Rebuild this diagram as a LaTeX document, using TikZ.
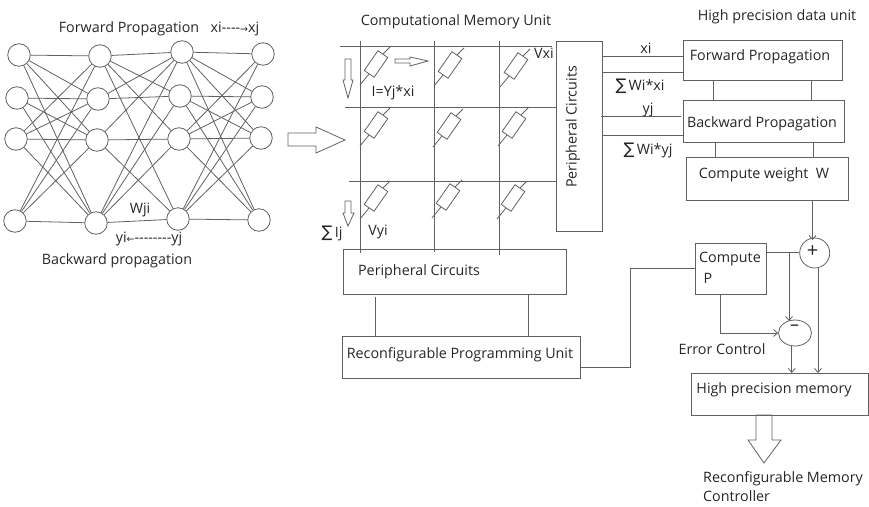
\documentclass[tikz,border=0pt]{standalone}
\usepackage{fontspec}
\setmainfont{Open Sans}
\newfontfamily\symf{DejaVu Sans}
\usetikzlibrary{arrows.meta,shapes.geometric}
\tikzset{
  x=1pt,y=-1pt,
  ln/.style={draw=black!62,line width=0.8pt},
  neuron/.style={circle,ln,minimum size=22.5pt,inner sep=0pt},
  boxn/.style={rectangle,ln,inner sep=0pt},
  res/.style={rectangle,ln,minimum width=24pt,minimum height=12pt,inner sep=0pt,rotate=55},
  hollow/.style={ln,line join=miter},
  txt/.style={inner sep=0pt,text=black!85,font=\fontsize{14.3}{16}\selectfont},
  open/.style={-{Straight Barb[length=4pt,width=7pt]}}
}
\newcommand{\sumsym}{{\symf\fontsize{16}{16}\selectfont\char"2211}}
\begin{document}
\begin{tikzpicture}
\useasboundingbox (0,0) rectangle (869,506);
% network
\node[neuron] (a1) at (19,55) {};
\node[neuron] (a2) at (17,98) {};
\node[neuron] (a3) at (16,139) {};
\node[neuron] (a4) at (15,221) {};
\node[neuron] (b1) at (100,56) {};
\node[neuron] (b2) at (98,99) {};
\node[neuron] (b3) at (97,140) {};
\node[neuron] (b4) at (96,223) {};
\node[neuron] (c1) at (182,52) {};
\node[neuron] (c2) at (180,96) {};
\node[neuron] (c3) at (179,139) {};
\node[neuron] (c4) at (178,219) {};
\node[neuron] (d1) at (263,54) {};
\node[neuron] (d2) at (262,97) {};
\node[neuron] (d3) at (261,138) {};
\node[neuron] (d4) at (259,220) {};
\foreach \i/\j in {1/1,1/2,1/3,1/4,2/2,2/3,2/4,3/1,3/2,3/3,3/4,4/1,4/2,4/3,4/4}{
  \draw[ln] (a\i) -- (b\j);
  \draw[ln] (c\i) -- (d\j);
}
\foreach \i/\j in {1/1,1/2,1/3,1/4,2/1,2/2,3/1,3/3,3/4,4/1,4/2,4/3,4/4}{
  \draw[ln] (b\i) -- (c\j);
}
\node[txt] (t1) at (129,29) {Forward Propagation};
\node[txt] (t2) at (235,29) {xi{-}{-}{-}{-}{\symf\fontsize{9.5}{10}\selectfont→}xj};
\node[txt] (t3) at (140,210) {Wji};
\node[txt] (t4) at (149,239) {yi{\symf\fontsize{9.5}{10}\selectfont←}{-}{-}{-}{-}{-}{-}{-}{-}yj};
\node[txt] (t5) at (117,261) {Backward propagation};
% big arrow
\draw[hollow] (288,133) -- (316,133) -- (316,127) -- (345,140) -- (316,153) -- (316,146) -- (288,146) -- cycle;
% crossbar
\node[txt] (t6) at (456,22) {Computational Memory Unit};
\node[boxn,minimum width=46pt,minimum height=190pt] (pr) at (579,136) {};
\node[txt,rotate=90] (t7) at (573,127) {Peripheral Circuits};
\node[boxn,minimum width=223pt,minimum height=45pt] (pb) at (454.5,271.5) {};
\node[txt] (t8) at (419,272) {Peripheral Circuits};
\node[boxn,minimum width=238pt,minimum height=42pt] (rp) at (461,357) {};
\node[txt] (t9) at (460,355) {Reconfigurable Programming Unit};
\coordinate (h1a) at (340,46);  \coordinate (h1b) at (552,46);
\coordinate (h2a) at (345,107); \coordinate (h2b) at (556,107);
\coordinate (h3a) at (349,181); \coordinate (h3b) at (557,181);
\coordinate (v1a) at (360,41);  \coordinate (v1b) at (360,253);
\coordinate (v2a) at (434,41);  \coordinate (v2b) at (434,252);
\coordinate (v3a) at (499,41);  \coordinate (v3b) at (499,255);
\foreach \n in {h1,h2,h3,v1,v2,v3}{\draw[ln] (\n a) -- (\n b);}
\foreach \n/\x/\y in {r11/376/64,r12/450/65,r13/516/66,r21/376/125,r22/449/126,r23/514/125,r31/376/198,r32/448/197,r33/513/198}{
  \node[res] (\n) at (\x,\y) {};
  \coordinate (\n l) at (\x-16,\y+21);
  \coordinate (\n u) at (\x+14,\y-17);
  \draw[ln] (\n l) -- (\n.west);
  \draw[ln] (\n.east) -- (\n u);
}
\draw[hollow] (395,59) -- (410,59) -- (410,57) -- (428,61) -- (410,66) -- (410,63) -- (395,63) -- cycle;
\draw[hollow] (345,59) -- (351,59) -- (351,80) -- (353,80) -- (348,98) -- (343,80) -- (345,80) -- cycle;
\draw[hollow] (345,201) -- (351,201) -- (351,213) -- (354,213) -- (348,226) -- (343,213) -- (345,213) -- cycle;
\node[txt] (t10) at (393,93) {I=Yj*xi};
\node[txt] (t11) at (544,53) {Vxi};
\node[txt] (t12) at (378,232) {Vyi};
\node[txt] (t13) at (332,233) {\sumsym\,Ij};
\coordinate (pb1) at (375,297); \coordinate (pb2) at (528,295);
\coordinate (rp1) at (375,336); \coordinate (rp2) at (528,336);
\draw[ln] (pb1) -- (rp1);
\draw[ln] (pb2) -- (rp2);
% right column
\node[txt] (t14) at (777,17) {High precision data unit};
\node[boxn,minimum width=159pt,minimum height=40pt] (fp) at (762.5,60) {};
\node[txt] (t15) at (760,57) {Forward Propagation};
\node[boxn,minimum width=161.5pt,minimum height=42pt] (bp) at (763.75,121) {};
\node[txt] (t16) at (762,124) {Backward Propagation};
\node[boxn,minimum width=162pt,minimum height=43pt] (cw) at (767,178.5) {};
\node[txt] (t17) at (764,175) {Compute weight\ \ W};
\foreach \x in {713,811}{\draw[ln] (\x,80) -- (\x,100);}
\foreach \x in {715,813}{\draw[ln] (\x,142) -- (\x,157);}
\coordinate (p1) at (602,56);  \coordinate (f1) at (683,56);
\coordinate (p2) at (602,72);  \coordinate (f2) at (684,72);
\coordinate (p3) at (601,116); \coordinate (f3) at (681,116);
\coordinate (p4) at (602,135); \coordinate (f4) at (683,135);
\draw[ln] (p1) -- (f1);
\draw[ln] (p2) -- (f2);
\draw[ln] (p3) -- (f3);
\draw[ln] (p4) -- (f4);
\node[txt] (t18) at (646,48) {xi};
\node[txt] (t19) at (640,86) {\sumsym\,Wi*xi};
\node[txt] (t20) at (648,110) {yj};
\node[txt] (t21) at (648,150) {\sumsym\,Wi*yj};
\node[circle,ln,minimum size=30pt,inner sep=0pt] (plus) at (814.7,253) {};
\node[txt,font=\fontsize{20}{22}\selectfont] (t22) at (812.5,251.5) {+};
\node[ellipse,ln,minimum width=33pt,minimum height=26pt,inner sep=0pt] (minus) at (795,333) {};
\node[txt,font=\fontsize{18}{20}\selectfont] (t23) at (794.5,328) {–};
\node[boxn,minimum width=70.5pt,minimum height=51pt] (cp) at (731,268.5) {};
\node[txt] (t24) at (730,259) {Compute};
\node[txt] (t25) at (708,278) {P};
\node[boxn,minimum width=177pt,minimum height=42pt] (hp) at (779.5,394) {};
\node[txt] (t26) at (774,390) {High precision memory};
\node[txt] (t27) at (722,349) {Error Control};
\coordinate (cwb) at (812.5,200);
\coordinate (pt) at (812.5,240);
\draw[ln,open] (cwb) -- (pt);
\coordinate (cpr) at (766,252);
\draw[ln] (cpr) -- (plus.west |- cpr);
\coordinate (br) at (789,252);
\coordinate (mt) at (789,321);
\draw[ln,open] (br) -- (mt);
\coordinate (cpb) at (720.7,294);
\coordinate (cpc) at (720.7,333);
\draw[ln,open] (cpb) -- (cpc) -- (minus.west);
\coordinate (mb) at (791.7,346);
\coordinate (hm) at (791.7,373);
\draw[ln,open] (mb) -- (hm);
\coordinate (pb0) at (818,268);
\coordinate (hp0) at (818,373);
\draw[ln,open] (pb0) -- (hp0);
\coordinate (rpr) at (580,367.7);
\coordinate (elb) at (630,367.7);
\coordinate (elt) at (630,268);
\coordinate (cpl) at (695.7,268);
\draw[ln] (rpr) -- (elb) -- (elt) -- (cpl);
\draw[hollow] (756,415) -- (772,415) -- (772,440) -- (781,440) -- (764,463) -- (748,440) -- (756,440) -- cycle;
\node[txt,anchor=west] (t28) at (703,479) {Reconfigurable Memory};
\node[txt,anchor=west] (t29) at (703,496.5) {Controller};
\end{tikzpicture}
\end{document}
